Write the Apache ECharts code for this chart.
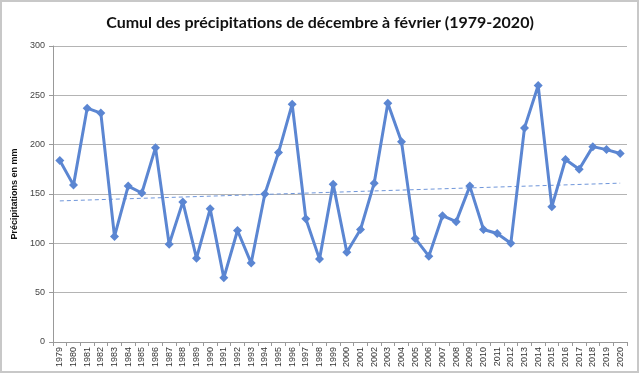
<!DOCTYPE html>
<html><head><meta charset="utf-8">
<script src="https://cdn.jsdelivr.net/npm/echarts@6/dist/echarts.min.js"></script>
<style>html,body{margin:0;padding:0;background:#fff}#c{width:640px;height:374px}</style>
</head><body><div id="c"></div>
<script>
const years = ['1979','1980','1981','1982','1983','1984','1985','1986','1987','1988','1989','1990','1991','1992','1993','1994','1995','1996','1997','1998','1999','2000','2001','2002','2003','2004','2005','2006','2007','2008','2009','2010','2011','2012','2013','2014','2015','2016','2017','2018','2019','2020'];
const precip = [184,159,237,232,107,158,151,197,99,142,85,135,65,113,80,150,192,241,125,84,160,91,114,161,242,203,105,87,128,122,158,114,110,100,217,260,137,185,175,198,195,191];
const trendStart = 143;
const trendEnd = 161;
const yTicks = [0,50,100,150,200,250,300];
const chartTitle = 'Cumul des précipitations de décembre à février (1979-2020)';
const yName = 'Précipitations en mm';

const chart = echarts.init(document.getElementById('c'));
chart.setOption({
  animation:false,
  backgroundColor:'#fff',
  title:{text:chartTitle,left:'center',top:10,textStyle:{fontFamily:'Lato',fontSize:16,fontWeight:'bold',color:'#111'}},
  graphic:[{type:'rect',shape:{x:1,y:1,width:637,height:371},style:{fill:'none',stroke:'#c8c8c8',lineWidth:2},silent:true}],
  grid:{left:53,right:13,top:46,bottom:32,containLabel:false},
  xAxis:{type:'category',data:years,boundaryGap:true,
    axisLine:{lineStyle:{color:'#999',width:1}},
    axisTick:{show:true,alignWithLabel:false,length:4,lineStyle:{color:'#999'}},
    axisLabel:{rotate:90,fontSize:9,color:'#333',fontFamily:'Liberation Sans',margin:5,interval:0}},
  yAxis:{type:'value',min:0,max:300,interval:50,
    name:yName,nameLocation:'middle',nameGap:31,nameRotate:90,
    nameTextStyle:{fontSize:9,fontWeight:'bold',color:'#111',fontFamily:'Liberation Sans'},
    axisLine:{show:true,lineStyle:{color:'#999'}},
    axisTick:{show:true,length:4,lineStyle:{color:'#999'}},
    axisLabel:{fontSize:9,color:'#444',fontFamily:'Liberation Sans',margin:8},
    splitLine:{lineStyle:{color:'#b4b4b4',width:1}}},
  series:[
    {type:'line',data:precip,symbol:'diamond',symbolSize:9,
      lineStyle:{color:'#5b86d2',width:3},itemStyle:{color:'#5b86d2'},z:3},
    {type:'line',data:[[years[0],trendStart],[years[years.length-1],trendEnd]],symbol:'none',
      lineStyle:{color:'#6f96da',width:1,type:[4,3]},z:2}
  ]
});
</script></body></html>
